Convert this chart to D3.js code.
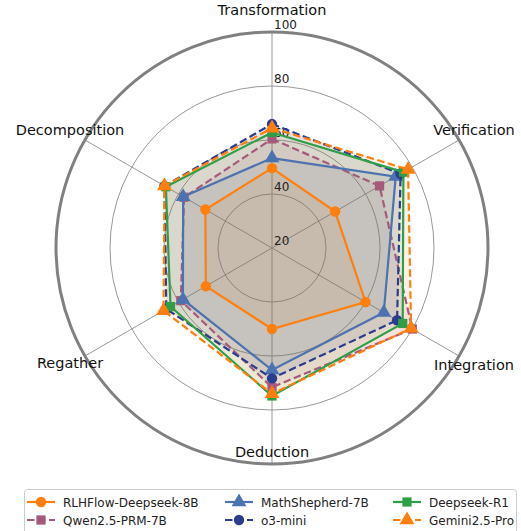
<!DOCTYPE html>
<html>
<head>
<meta charset="utf-8">
<script src="https://cdn.jsdelivr.net/npm/d3@7"></script>
<style>
  body { margin: 0; background: #fff; }
  svg { font-family: "DejaVu Sans", sans-serif; }
</style>
</head>
<body>
<svg id="chart" width="521" height="531"></svg>
<script>
const axes = ["Transformation", "Verification", "Integration", "Deduction", "Regather", "Decomposition"];
const ticks = [20, 40, 60, 80, 100];

const models = ["RLHFlow-Deepseek-8B", "Qwen2.5-PRM-7B", "MathShepherd-7B", "o3-mini", "Deepseek-R1", "Gemini2.5-Pro"];
const rlhflow = [49.6, 47, 60, 50, 48.3, 48.5];
const qwen = [60.4, 66, 80, 71.6, 59, 57.6];
const mathShepherd = [53.3, 72.9, 67.8, 65.2, 58.1, 58];
const o3mini = [65.9, 75, 73.5, 68.3, 65.2, 66];
const deepseekR1 = [62.8, 76.2, 75.9, 74.8, 63.4, 65.4];
const gemini = [64.4, 78.2, 79.5, 74, 66.4, 66];

const series = [rlhflow, qwen, mathShepherd, o3mini, deepseekR1, gemini];
const colors = ["#ff7f0e", "#a65a7b", "#4c72b0", "#2a3d8f", "#2f9e48", "#ff7f0e"];
const dashed = [false, true, false, true, false, true];
const shapes = [d3.symbolCircle, d3.symbolSquare, d3.symbolTriangle, d3.symbolCircle, d3.symbolSquare, d3.symbolTriangle];

const cx = 272, cy = 248, R = 216;
const svg = d3.select("#chart");
const g = svg.append("g").attr("transform", "translate(" + cx + "," + cy + ")");

const r = d3.scaleLinear().domain([20, 100]).range([0, R]);
const ang = (i) => (i * 2 * Math.PI) / axes.length;
const px = (i, v) => r(v) * Math.sin(ang(i));
const py = (i, v) => -r(v) * Math.cos(ang(i));

// grid circles
g.selectAll(".ring")
  .data(ticks.slice(1, -1))
  .enter()
  .append("circle")
  .attr("r", (d) => r(d))
  .attr("fill", "none")
  .attr("stroke", "#999")
  .attr("stroke-width", 1);

// spokes
g.selectAll(".spoke")
  .data(axes)
  .enter()
  .append("line")
  .attr("x1", 0).attr("y1", 0)
  .attr("x2", (d, i) => px(i, 100))
  .attr("y2", (d, i) => py(i, 100))
  .attr("stroke", "#999")
  .attr("stroke-width", 1);

// outer spine
g.append("circle")
  .attr("r", r(100))
  .attr("fill", "none")
  .attr("stroke", "#808080")
  .attr("stroke-width", 3);

const radial = d3.lineRadial()
  .angle((d, i) => ang(i))
  .radius((d) => r(d))
  .curve(d3.curveLinearClosed);

// fills
g.selectAll(".area")
  .data(series)
  .enter()
  .append("path")
  .attr("d", (d) => radial(d))
  .attr("fill", (d, i) => colors[i])
  .attr("fill-opacity", 0.1)
  .attr("stroke", "none");

// tick labels
g.selectAll(".tick")
  .data(ticks)
  .enter()
  .append("text")
  .attr("x", 2)
  .attr("y", (d) => -r(d) - 3)
  .attr("font-size", 12)
  .attr("fill", "#222")
  .text((d) => d);

// lines and markers
series.forEach(function (vals, s) {
  g.append("path")
    .attr("d", radial(vals))
    .attr("fill", "none")
    .attr("stroke", colors[s])
    .attr("stroke-width", 2.2)
    .attr("stroke-dasharray", dashed[s] ? "7.5,3.5" : null);

  g.selectAll(".m" + s)
    .data(vals)
    .enter()
    .append("path")
    .attr("d", d3.symbol().type(shapes[s]).size(shapes[s] === d3.symbolTriangle ? 95 : 85))
    .attr("transform", (d, i) => "translate(" + px(i, d) + "," + py(i, d) + ")")
    .attr("fill", colors[s]);
});

// axis labels
const labelPos = [
  { x: 0, y: -233 },
  { x: 202, y: -113 },
  { x: 202, y: 122 },
  { x: 0, y: 209 },
  { x: -202, y: 120 },
  { x: -202, y: -113 }
];
g.selectAll(".axlabel")
  .data(axes)
  .enter()
  .append("text")
  .attr("x", (d, i) => labelPos[i].x)
  .attr("y", (d, i) => labelPos[i].y)
  .attr("text-anchor", "middle")
  .attr("font-size", 14.5)
  .attr("fill", "#111")
  .text((d) => d);

// legend
const legend = svg.append("g");
legend.append("rect")
  .attr("x", 24.5).attr("y", 489.5)
  .attr("width", 492).attr("height", 45)
  .attr("rx", 3)
  .attr("fill", "#fff")
  .attr("stroke", "#ccc");

const colX = [27, 225, 393];
const rowY = [502, 520];
models.forEach(function (name, i) {
  const c = Math.floor(i / 2), rw = i % 2;
  const item = legend.append("g").attr("transform", "translate(" + colX[c] + "," + rowY[rw] + ")");
  item.append("line")
    .attr("x1", 0).attr("x2", 28)
    .attr("stroke", colors[i])
    .attr("stroke-width", 2.2)
    .attr("stroke-dasharray", dashed[i] ? "7.5,3.5" : null);
  item.append("path")
    .attr("d", d3.symbol().type(shapes[i]).size(shapes[i] === d3.symbolTriangle ? 95 : 85))
    .attr("transform", "translate(14,0)")
    .attr("fill", colors[i]);
  item.append("text")
    .attr("x", 36)
    .attr("y", 4.5)
    .attr("font-size", 12)
    .attr("fill", "#222")
    .text(name);
});
</script>
</body>
</html>
